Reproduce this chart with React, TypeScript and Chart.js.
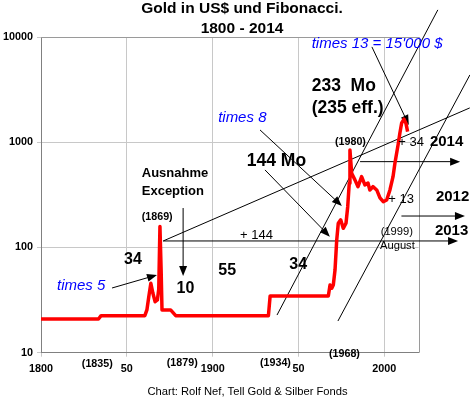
import React, { useEffect, useRef } from "react";
import { Chart, registerables } from "chart.js";

Chart.register(...registerables);

// ---- data (years and gold price in US$) ----
const goldYears = [
  1800, 1833.5, 1835, 1860.5, 1861.7, 1862.8, 1864.0, 1865.2, 1866.5, 1867.8,
  1868.6, 1869.3, 1870.0, 1870.5, 1875.5, 1878.5, 1932.5, 1933.5, 1967.4, 1968.4,
  1969.4, 1970.3, 1971.3, 1972.3, 1973.2, 1974.6, 1976.1, 1977.7, 1978.7, 1979.6,
  1980.0, 1981.0, 1982.9, 1984.7, 1986.8, 1988.7, 1990.5, 1991.6, 1993.4, 1995.6,
  1997.5, 1999.4, 2001.4, 2003.3, 2005.1, 2006.2, 2008.2, 2009.1, 2010.1, 2011.5,
  2012.6, 2013.6,
];
const goldPrices = [
  20.9, 20.9, 22.5, 22.5, 25.5, 34, 45.7, 36.7, 30.5, 31.7,
  40, 158, 60, 25.5, 25.5, 22.5, 22.5, 34.6, 34.6, 44,
  41, 44, 61, 118, 170, 183, 152, 170, 244, 408,
  845, 507, 439, 378, 471, 393, 410, 352, 378, 352,
  296, 272, 283, 352, 471, 631, 977, 1224, 1516, 1656,
  1516, 1262,
];

const xTickValues = [1800, 1850, 1900, 1950, 2000];
const xTickLabels = ["1800", "50", "1900", "50", "2000"];
const yTickValues = [10, 100, 1000, 10000];

const titleLines = ["Gold in US$ und Fibonacci.", "1800 - 2014"];
const footerText = "Chart: Rolf Nef, Tell Gold & Silber Fonds";

// ---- annotations, anchored in data coordinates (year, price) ----
const noteTexts = [
  "times 13 = 15'000 $", "233  Mo", "(235 eff.)", "times 8", "144 Mo",
  "Ausnahme", "Exception", "(1869)", "34", "55", "10", "times 5", "34",
  "+ 144", "(1980)", "+ 34", "2014", "+ 13", "2012", "2013", "(1999)",
  "August", "(1968)", "(1835)", "(1879)", "(1934)",
];
const noteYears = [
  1957.7, 1957.7, 1957.7, 1903.2, 1919.9,
  1858.7, 1858.7, 1858.7, 1848.4, 1903.3, 1879.0, 1809.3, 1944.7,
  1916.0, 1971.3, 2008.2, 2026.6, 2002.3, 2030.1, 2029.5, 1997.9,
  1997.5, 1967.8, 1823.8, 1873.3, 1927.6,
];
const noteValues = [
  8590, 3380, 2105, 1702, 654,
  500, 344, 194, 76, 60.2, 41, 43, 68.2,
  131.5, 1000, 991, 1014, 289, 304, 144.5, 141.3,
  104, 9.72, 7.76, 7.93, 7.93,
];
const noteKinds = [
  "blue", "big", "big", "blue", "big",
  "label", "label", "small", "mid", "mid", "mid", "blue", "mid",
  "plain", "small", "plain", "year", "plain", "year", "year", "plain11",
  "plain11", "small", "small", "small", "small",
];

const lineFromYear = [1871.2, 1871.2, 1985.9, 2010.0, 1937.5, 1973.0, 1992.8, 1927.6, 1930.5, 1882.8, 1841.4];
const lineFromValue = [115.3, 115.3, 654, 199, 22.8, 20.0, 8050, 1309, 545.6, 237, 41.2];
const lineToYear = [2043.0, 2049.8, 2044.2, 2047.0, 2031.2, 2049.9, 2014.3, 1975.3, 1968.3, 1882.8, 1867.6];
const lineToValue = [115.3, 2119, 654, 199, 18100, 4365, 1459, 248, 126.7, 53.6, 54.8];
const lineArrow = [true, false, true, true, false, false, true, true, true, true, true];

const FONT = "'Liberation Sans', Arial, Helvetica, sans-serif";

const noteStyles: Record<string, { font: string; color: string }> = {
  blue: { font: `italic 15px ${FONT}`, color: "#0000ff" },
  big: { font: `bold 17.5px ${FONT}`, color: "#000" },
  mid: { font: `bold 16px ${FONT}`, color: "#000" },
  year: { font: `bold 15px ${FONT}`, color: "#000" },
  label: { font: `bold 13px ${FONT}`, color: "#000" },
  small: { font: `bold 10.7px ${FONT}`, color: "#000" },
  plain: { font: `13px ${FONT}`, color: "#000" },
  plain11: { font: `11.2px ${FONT}`, color: "#000" },
};

const notesPlugin = {
  id: "notes",
  beforeDatasetsDraw(chart: any) {
    const { ctx, chartArea: a, scales } = chart;
    const xs = scales.x;
    const ys = scales.y;
    ctx.save();
    // plot frame (top + right)
    ctx.strokeStyle = "#9a9a9a";
    ctx.lineWidth = 1;
    ctx.beginPath();
    ctx.moveTo(a.left, Math.round(a.top) + 0.5);
    ctx.lineTo(Math.round(a.right) + 0.5, Math.round(a.top) + 0.5);
    ctx.lineTo(Math.round(a.right) + 0.5, a.bottom);
    ctx.stroke();

    ctx.strokeStyle = "#000";
    ctx.fillStyle = "#000";
    ctx.lineWidth = 1;
    for (let i = 0; i < lineFromYear.length; i++) {
      const x1 = xs.getPixelForValue(lineFromYear[i]);
      const y1 = ys.getPixelForValue(lineFromValue[i]);
      const x2 = xs.getPixelForValue(lineToYear[i]);
      const y2 = ys.getPixelForValue(lineToValue[i]);
      const ang = Math.atan2(y2 - y1, x2 - x1);
      const headLen = 10;
      const headHalf = 4;
      const ex = lineArrow[i] ? x2 - Math.cos(ang) * headLen * 0.8 : x2;
      const ey = lineArrow[i] ? y2 - Math.sin(ang) * headLen * 0.8 : y2;
      ctx.beginPath();
      ctx.moveTo(x1, y1);
      ctx.lineTo(ex, ey);
      ctx.stroke();
      if (lineArrow[i]) {
        const bx = x2 - Math.cos(ang) * headLen;
        const by = y2 - Math.sin(ang) * headLen;
        ctx.beginPath();
        ctx.moveTo(x2, y2);
        ctx.lineTo(bx - Math.sin(ang) * headHalf, by + Math.cos(ang) * headHalf);
        ctx.lineTo(bx + Math.sin(ang) * headHalf, by - Math.cos(ang) * headHalf);
        ctx.closePath();
        ctx.fill();
      }
    }
    ctx.restore();
  },
  afterDraw(chart: any) {
    const { ctx, scales } = chart;
    const xs = scales.x;
    const ys = scales.y;
    ctx.save();
    ctx.textBaseline = "middle";
    ctx.textAlign = "left";
    for (let i = 0; i < noteTexts.length; i++) {
      const st = noteStyles[noteKinds[i]];
      ctx.font = st.font;
      ctx.fillStyle = st.color;
      ctx.fillText(noteTexts[i], xs.getPixelForValue(noteYears[i]), ys.getPixelForValue(noteValues[i]));
    }
    // title
    ctx.textAlign = "center";
    ctx.fillStyle = "#000";
    ctx.font = `bold 15.5px ${FONT}`;
    ctx.fillText(titleLines[0], 242, 8.5);
    ctx.fillText(titleLines[1], 242, 28.5);
    // footer
    ctx.font = `11.2px ${FONT}`;
    ctx.fillText(footerText, 247.5, 392);
    ctx.restore();
  },
};

export default function App() {
  const ref = useRef<HTMLCanvasElement>(null);
  useEffect(() => {
    const chart = new Chart(ref.current as HTMLCanvasElement, {
      type: "line",
      data: {
        datasets: [
          {
            label: "Gold",
            data: goldYears.map((x, i) => ({ x, y: goldPrices[i] })),
            borderColor: "#ff0000",
            backgroundColor: "#ff0000",
            borderWidth: 3.5,
            pointRadius: 0,
            tension: 0,
            borderJoinStyle: "round",
            fill: false,
          },
        ],
      },
      options: {
        responsive: false,
        animation: false,
        devicePixelRatio: 1,
        layout: { padding: { top: 37, right: 51.4, left: 0, bottom: 0 } },
        plugins: {
          legend: { display: false },
          tooltip: { enabled: false },
          title: { display: false },
        },
        scales: {
          x: {
            type: "linear",
            min: 1800,
            max: 2020,
            afterBuildTicks: (s: any) => {
              s.ticks = xTickValues.map((v) => ({ value: v }));
            },
            afterFit: (s: any) => {
              s.height = 46.3;
            },
            ticks: {
              autoSkip: false,
              maxRotation: 0,
              padding: 6,
              color: "#000",
              font: { family: FONT, size: 10.8, weight: "bold" },
              callback: (v: any) => xTickLabels[xTickValues.indexOf(Number(v))],
            },
            grid: { color: "#c8c8c8", tickLength: 4, lineWidth: 1 },
            border: { color: "#808080" },
          },
          y: {
            type: "logarithmic",
            min: 10,
            max: 10000,
            afterBuildTicks: (s: any) => {
              s.ticks = yTickValues.map((v) => ({ value: v }));
            },
            afterFit: (s: any) => {
              s.width = 41;
            },
            ticks: {
              padding: 4,
              color: "#000",
              font: { family: FONT, size: 10.8, weight: "bold" },
              callback: (v: any) => String(v),
            },
            grid: { color: "#c8c8c8", tickLength: 4, lineWidth: 1 },
            border: { color: "#808080" },
          },
        },
      },
      plugins: [notesPlugin],
    } as any);
    return () => chart.destroy();
  }, []);
  return (
    <div style={{ position: "fixed", left: 0, top: 0, width: 470, height: 399, background: "#fff" }}>
      <canvas ref={ref} width={470} height={399} style={{ display: "block", width: 470, height: 399 }} />
    </div>
  );
}
